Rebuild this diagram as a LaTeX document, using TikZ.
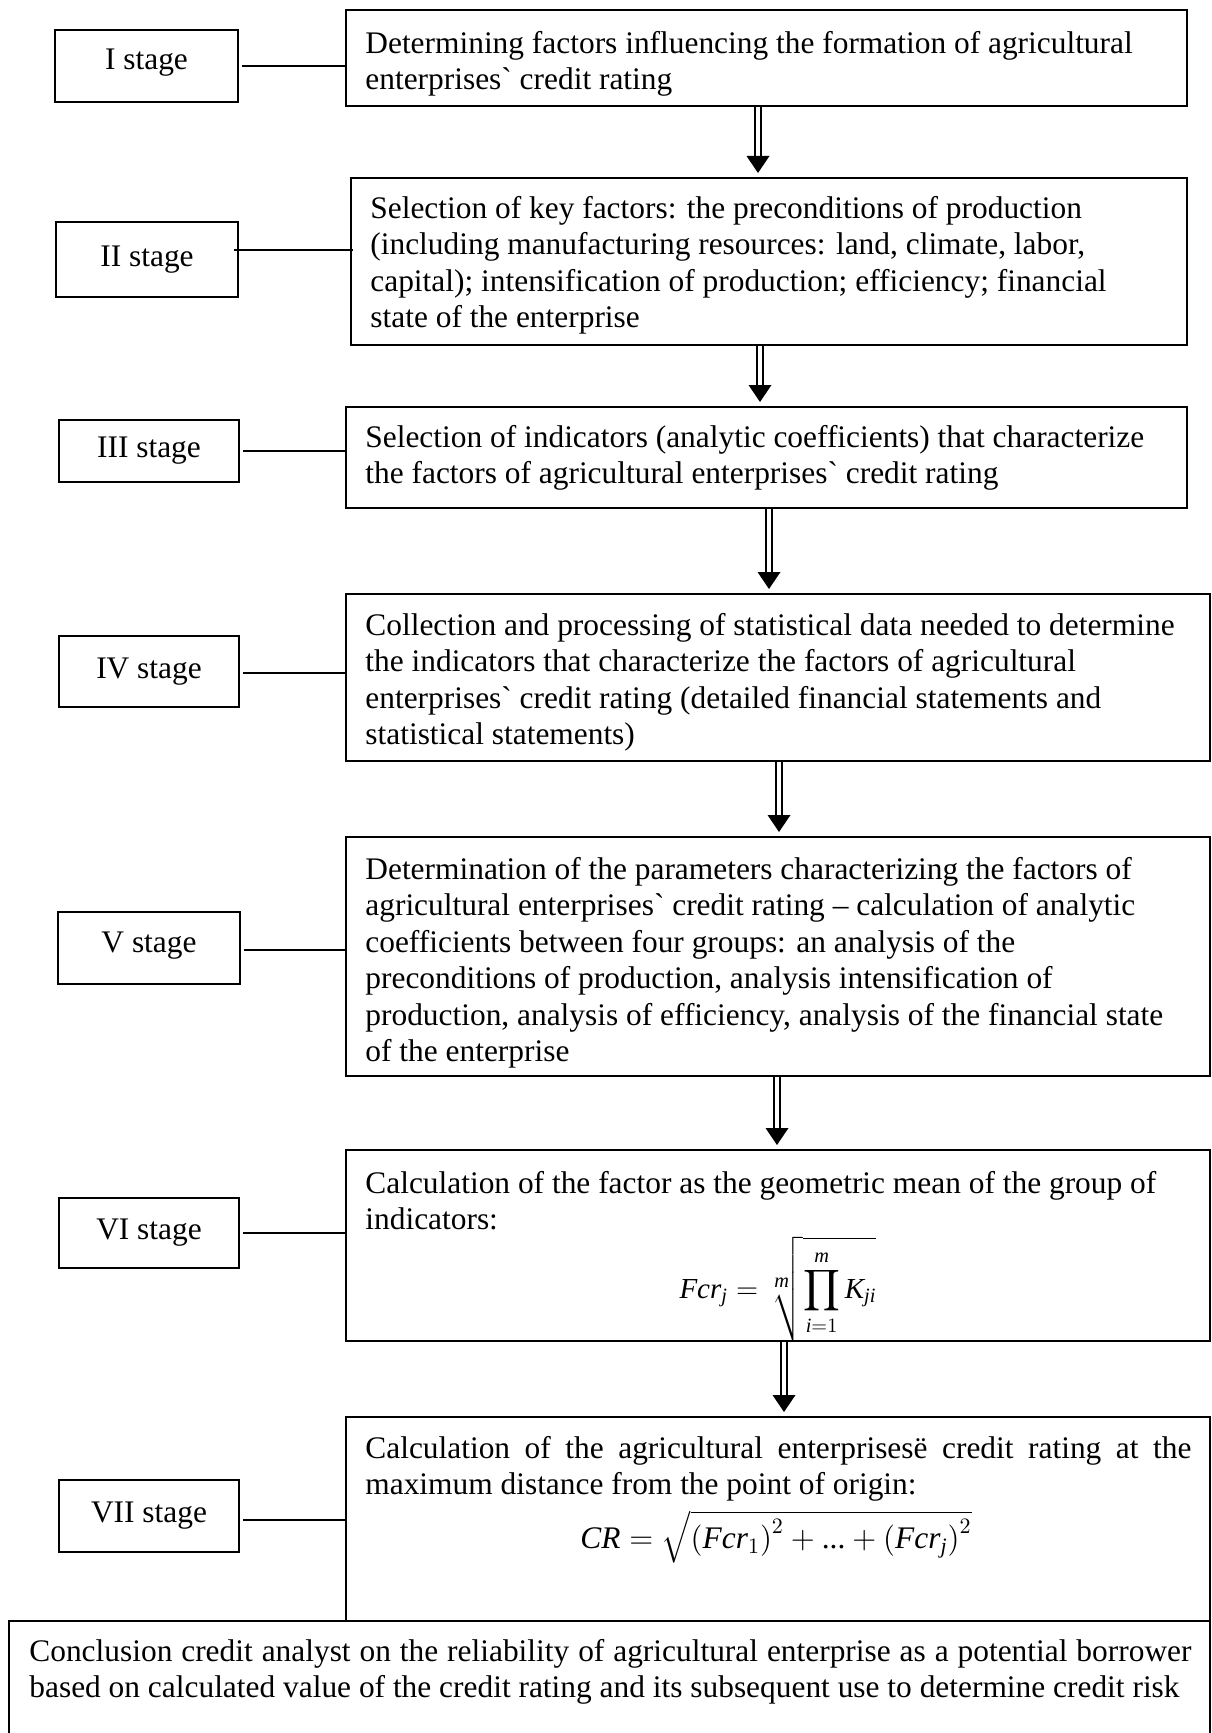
\RequirePackage{fix-cm}
\documentclass[tikz,border=0pt]{standalone}
\usepackage{amsmath}
\usepackage{fontspec}
\setmainfont{Liberation Serif}[Ligatures=TeXOff]
\usetikzlibrary{calc,fit}
\newcommand\mytxt{\fontsize{15.7}{18.2}\selectfont}
\newcommand\myformfont{\fontsize{14.5}{17}\selectfont}
\tikzset{
  box/.style={draw, line width=1pt, inner sep=0pt},
  stagebox/.style={draw, line width=0.8pt, inner sep=0pt},
  stagelabel/.style={inner sep=0pt, font=\mytxt},
  txt/.style={anchor=north west, inner sep=0pt, align=left, font=\mytxt},
  formula/.style={inner sep=0pt, font=\mytxt},
  conn/.style={line width=0.8pt},
  shaft/.style={line width=1.2pt, double=white, double distance=2pt},
  head/.style={fill=black},
}
% #1 start node, #2 end node, #3 x position
\newcommand\dblarrow[3]{%
  \coordinate (ax) at (#3,0);
  \draw[shaft] (ax |- #1.south) -- ($(ax |- #2.north)+(0,-16)$);
  \fill[head] ($(ax |- #2.north)+(0,-4)$) -- ++(-11.5,-17) -- ++(23,0) -- cycle;
}
\begin{document}
\begin{tikzpicture}[x=0.5pt,y=-0.5pt]
\fill[white] (0,0) rectangle (1211,1733);
\useasboundingbox (0,0) rectangle (1211,1733);

% stage boxes
\node[stagebox, fit={(55,30) (238,102)}] (s1) {};
\node[stagebox, fit={(56,222) (238,297)}] (s2) {};
\node[stagebox, fit={(59,420) (239,482)}] (s3) {};
\node[stagebox, fit={(59,636) (239,707)}] (s4) {};
\node[stagebox, fit={(58,912) (240,984)}] (s5) {};
\node[stagebox, fit={(59,1198) (239,1268)}] (s6) {};
\node[stagebox, fit={(59,1480) (239,1552)}] (s7) {};
\node[stagelabel] (l1) at ($(s1.center)+(0,-3)$) {I stage};
\node[stagelabel] (l2) at (s2.center) {II stage};
\node[stagelabel] (l3) at (s3.center) {III stage};
\node[stagelabel] (l4) at (s4.center) {IV stage};
\node[stagelabel] (l5) at ($(s5.center)+(0,-2)$) {V stage};
\node[stagelabel] (l6) at (s6.center) {VI stage};
\node[stagelabel] (l7) at (s7.center) {VII stage};

% content boxes
\node[box, fit={(346,10) (1187,106)}] (b1) {};
\node[box, fit={(351,178) (1187,345)}] (b2) {};
\node[box, fit={(346,407) (1187,508)}] (b3) {};
\node[box, fit={(346,594) (1210,761)}] (b4) {};
\node[box, fit={(346,837) (1210,1076)}] (b5) {};
\node[box, fit={(346,1150) (1210,1341)}] (b6) {};
\node[box, fit={(346,1417) (1210,1621)}] (b7) {};
\node[box, fit={(9,1621) (1210,1780)}] (b8) {};

% texts
\node[txt] (t1) at (365,31) {Determining factors influencing the formation of agricultural\\enterprises` credit rating};
\node[txt] (t2) at (370,196) {Selection of key factors: the preconditions of production\\(including manufacturing resources: land, climate, labor,\\capital); intensification of production; efficiency; financial\\state of the enterprise};
\node[txt] (t3) at (365,425) {Selection of indicators (analytic coefficients) that characterize\\the factors of agricultural enterprises` credit rating};
\node[txt] (t4) at (365,613) {Collection and processing of statistical data needed to determine\\the indicators that characterize the factors of agricultural\\enterprises` credit rating (detailed financial statements and\\statistical statements)};
\node[txt] (t5) at (365,857) {Determination of the parameters characterizing the factors of\\agricultural enterprises` credit rating – calculation of analytic\\coefficients between four groups: an analysis of the\\preconditions of production, analysis intensification of\\production, analysis of efficiency, analysis of the financial state\\of the enterprise};
\node[txt] (t6) at (365,1171) {Calculation of the factor as the geometric mean of the group of\\indicators:};
\node[formula, font=\myformfont] (f6) at (778,1289) {$\displaystyle \textit{Fcr}_{\textit{j}} = \sqrt[\scriptstyle\textit{m}]{\prod_{\textit{i}=1}^{\textit{m}} \textit{K}_{\textit{ji}}}$};
\node[txt] (t7) at (365,1436) {\makebox[413pt][s]{Calculation of the agricultural enterprisesë credit rating at the}\\maximum distance from the point of origin:};
\node[formula] (f7) at (776,1537) {$\textit{CR} = \sqrt{\left(\textit{Fcr}_{1}\right)^{2} + \text{...} + \left(\textit{Fcr}_{\textit{j}}\right)^{2}}$};
\node[txt] (t8) at (29,1639) {\makebox[581pt][s]{Conclusion credit analyst on the reliability of agricultural enterprise as a potential borrower}\\based on calculated value of the credit rating and its subsequent use to determine credit risk};

% connectors stage -> box
\coordinate (y1) at (0,66);
\coordinate (y2) at (0,250);
\coordinate (y3) at (0,451);
\coordinate (y4) at (0,673);
\coordinate (y5) at (0,950);
\coordinate (y6) at (0,1233);
\coordinate (y7) at (0,1520);
\draw[conn, shorten <=1.5pt] (s1.east |- y1) -- (b1.west |- y1);
\draw[conn, shorten <=-2.5pt, shorten >=-1.5pt] (s2.east |- y2) -- (b2.west |- y2);
\draw[conn, shorten <=1.5pt] (s3.east |- y3) -- (b3.west |- y3);
\draw[conn, shorten <=1.5pt] (s4.east |- y4) -- (b4.west |- y4);
\draw[conn, shorten <=1.5pt] (s5.east |- y5) -- (b5.west |- y5);
\draw[conn, shorten <=1.5pt] (s6.east |- y6) -- (b6.west |- y6);
\draw[conn, shorten <=1.5pt] (s7.east |- y7) -- (b7.west |- y7);

% double arrows
\dblarrow{b1}{b2}{758}
\dblarrow{b2}{b3}{760}
\dblarrow{b3}{b4}{769}
\dblarrow{b4}{b5}{779}
\dblarrow{b5}{b6}{777}
\dblarrow{b6}{b7}{784}
\end{tikzpicture}
\end{document}
